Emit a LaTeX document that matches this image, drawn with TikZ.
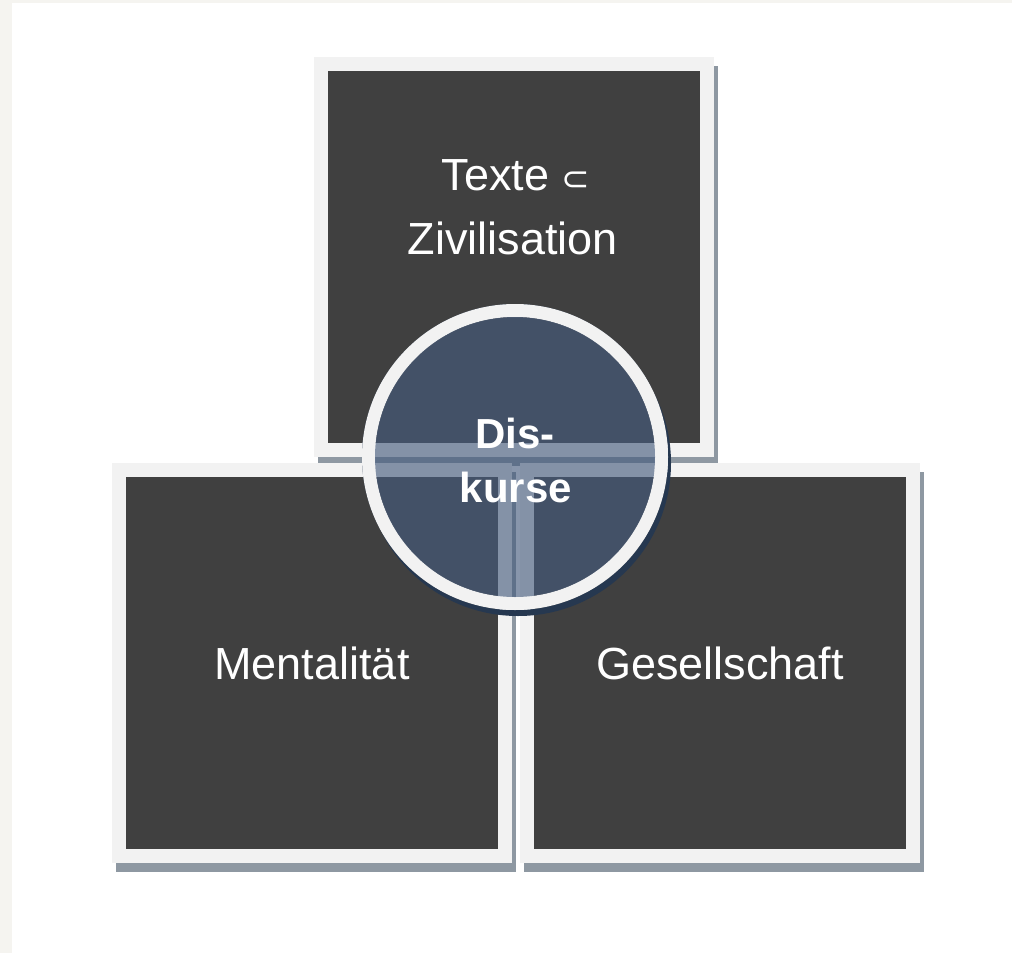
\documentclass[tikz,border=0pt]{standalone}
\usepackage{fontspec}
\setmainfont{Liberation Sans}
\newfontfamily\symbfont{DejaVu Sans}
\definecolor{boxdark}{HTML}{404040}
\definecolor{boxframe}{HTML}{F2F2F2}
\definecolor{boxshade}{HTML}{8E98A2}
\definecolor{discblue}{RGB}{70,92,126}
\definecolor{discshade}{HTML}{263850}
\definecolor{pagestrip}{HTML}{F5F4F0}
\begin{document}
\begin{tikzpicture}[x=1pt, y=-1pt,
	label/.style={text=white, inner sep=0pt, anchor=base, font=\fontsize{45}{54}\selectfont},
	disclabel/.style={text=white, inner sep=0pt, anchor=base, font=\fontsize{42}{50}\selectfont\bfseries}]
	\useasboundingbox (0, 0) rectangle (1012, 953);
	\fill[pagestrip] (0, 0) rectangle (1012, 953);
	\fill[white] (12, 3) rectangle (1012, 953);

	% top box
	\fill[boxshade] (318, 66) rectangle (718, 466);
	\fill[boxframe] (314, 57) rectangle (714, 457);
	\fill[boxdark] (328, 71) rectangle (700, 443);

	% left and right boxes
	\fill[boxshade] (116, 472) rectangle (516, 872);
	\fill[boxframe] (112, 463) rectangle (512, 863);
	\fill[boxdark] (126, 477) rectangle (498, 849);

	\fill[boxshade] (524, 472) rectangle (924, 872);
	\fill[boxframe] (520, 463) rectangle (920, 863);
	\fill[boxdark] (534, 477) rectangle (906, 849);

	% disc in the middle
	\coordinate (c) at (515, 457);
	\fill[discshade, even odd rule] ([shift={(3, 6)}]c) circle (153) (c) circle (153);
	\fill[boxframe, even odd rule] (c) circle (153) (c) circle (140);
	\fill[discblue, fill opacity=0.64] (c) circle (140);

	\node[label] (texte) at (516, 190) {Texte {\symbfont\fontsize{34}{34}\selectfont ⊂}};
	\node[label] (zivil) at (513, 254) {Zivilisation};
	\node[label] (mental) at (312, 679) {Mentalität};
	\node[label] (gesell) at (720, 679) {Gesellschaft};
	\node[disclabel] (dis) at (515, 448) {Dis-};
	\node[disclabel] (kurse) at (516, 502) {kurse};
\end{tikzpicture}
\end{document}
